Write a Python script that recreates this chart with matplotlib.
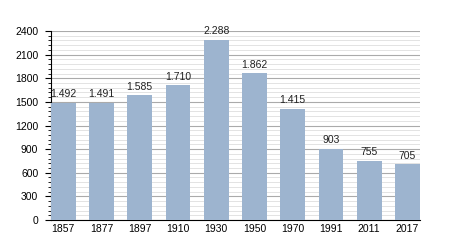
import matplotlib.pyplot as plt
from matplotlib.ticker import MultipleLocator

years = ["1857", "1877", "1897", "1910", "1930", "1950", "1970", "1991", "2011", "2017"]
population = [1492, 1491, 1585, 1710, 2288, 1862, 1415, 903, 755, 705]
labels = ["1.492", "1.491", "1.585", "1.710", "2.288", "1.862", "1.415", "903", "755", "705"]

plt.rcParams["font.family"] = ["Liberation Sans", "DejaVu Sans"]

fig = plt.figure(figsize=(4.5, 2.5), dpi=100)
ax = fig.add_axes([0.113, 0.12, 0.82, 0.756])

w = 0.65
x = range(len(years))
bars = ax.bar(x, population, width=w, color="#9db4cf", zorder=3)
for b, t in zip(bars, labels):
    ax.text(b.get_x() + b.get_width() / 2, b.get_height() + 45, t,
            ha="center", va="bottom", fontsize=7.5, color="#222222")

ax.set_xlim(-w / 2, len(years) - 1 + w / 2)
ax.set_ylim(0, 2400)
ax.yaxis.set_major_locator(MultipleLocator(300))
ax.yaxis.set_minor_locator(MultipleLocator(60))
ax.grid(axis="y", which="major", color="#aaaaaa", linewidth=0.8, zorder=0)
ax.grid(axis="y", which="minor", color="#dedede", linewidth=0.6, zorder=0)
ax.set_xticks(list(x))
ax.set_xticklabels(years)
ax.tick_params(axis="x", length=0, labelsize=7.5, pad=3)
ax.tick_params(axis="y", which="major", length=4, width=0.8, labelsize=7.5, pad=5)
ax.tick_params(axis="y", which="minor", length=2.5, width=0.6)
for s in ["top", "right"]:
    ax.spines[s].set_visible(False)

fig.savefig("out.png", dpi=100)
